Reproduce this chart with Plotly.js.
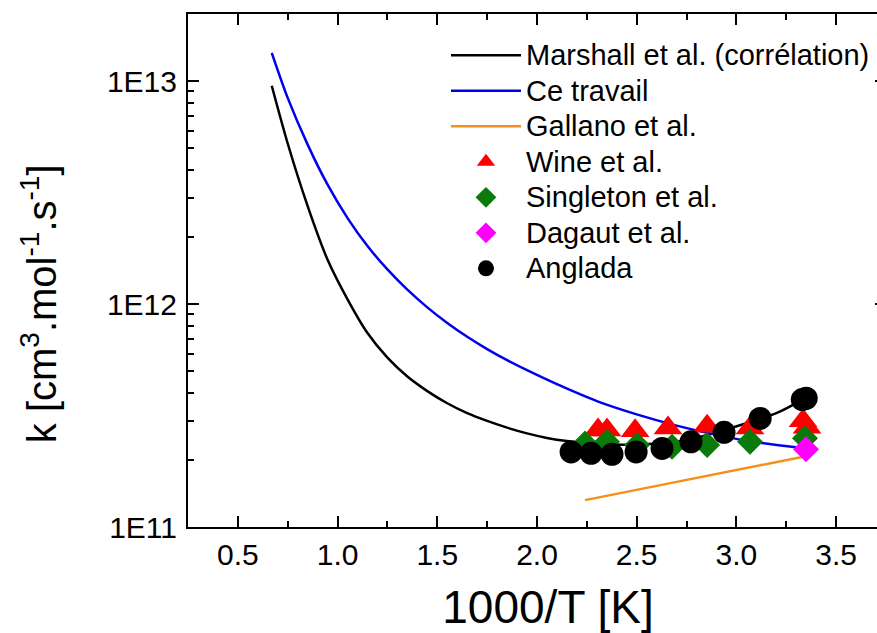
<!DOCTYPE html>
<html><head><meta charset="utf-8">
<script src="https://cdn.plot.ly/plotly-3.0.1.min.js"></script>
<style>html,body{margin:0;padding:0;overflow:hidden;background:#fff}#chart{width:900px;height:633px}</style>
</head><body><div id="chart"></div>
<script>
// Marshall et al. (corrélation)
const marshallX = [0.67, 0.75, 0.85, 0.95, 1.05, 1.15, 1.25, 1.35, 1.45, 1.55, 1.65, 1.75, 1.85, 1.95, 2.05, 2.15, 2.3, 2.45, 2.6, 2.75, 2.9, 3.05, 3.2, 3.33];
const marshallK = [9.53e12, 5.25e12, 2.75e12, 1.58e12, 1.05e12, 7.41e11, 5.75e11, 4.73e11, 4.07e11, 3.59e11, 3.24e11, 2.99e11, 2.79e11, 2.63e11, 2.51e11, 2.43e11, 2.36e11, 2.34e11, 2.37e11, 2.45e11, 2.66e11, 2.92e11, 3.24e11, 3.72e11];
// Ce travail
const travailX = [0.67, 0.75, 0.85, 0.95, 1.05, 1.15, 1.25, 1.35, 1.45, 1.55, 1.65, 1.75, 1.85, 1.95, 2.1, 2.3, 2.5, 2.7, 2.9, 3.1, 3.33];
const travailK = [1.34e13, 8.41e12, 5.19e12, 3.43e12, 2.43e12, 1.82e12, 1.43e12, 1.16e12, 9.66e11, 8.22e11, 7.13e11, 6.28e11, 5.6e11, 5.05e11, 4.37e11, 3.67e11, 3.2e11, 2.85e11, 2.59e11, 2.4e11, 2.26e11];
// Gallano et al.
const gallanoX = [2.241, 3.329];
const gallanoK = [1.32e11, 2.06e11];
// Wine et al.
const wineX = [2.306, 2.351, 2.492, 2.657, 2.853, 3.068, 3.334, 3.354];
const wineK = [2.72e11, 2.72e11, 2.7e11, 2.78e11, 2.83e11, 2.78e11, 3.0e11, 2.8e11];
// Singleton et al.
const singletonX = [2.241, 2.351, 2.502, 2.677, 2.853, 3.068, 3.344];
const singletonK = [2.37e11, 2.41e11, 2.33e11, 2.29e11, 2.33e11, 2.41e11, 2.5e11];
// Dagaut et al.
const dagautX = [3.349];
const dagautK = [2.23e11];
// Anglada
const angladaX = [2.171, 2.271, 2.376, 2.497, 2.627, 2.772, 2.938, 3.119, 3.33, 3.35];
const angladaK = [2.17e11, 2.14e11, 2.12e11, 2.17e11, 2.25e11, 2.41e11, 2.66e11, 3.07e11, 3.73e11, 3.78e11];

const yTickVals = [1e11, 1e12, 1e13];
const yTickText = ['1E11', '1E12', '1E13'];

const FONT = 'Liberation Sans, Arial, sans-serif';
const big = s => '<span style="font-size:29px">' + s + '</span>';
const traces = [
  {x: marshallX, y: marshallK, name: big('Marshall et al. (corrélation)'), mode: 'lines', line: {color: '#000000', width: 2.5, shape: 'spline', smoothing: 0.8}},
  {x: travailX, y: travailK, name: big('Ce travail'), mode: 'lines', line: {color: '#0000ee', width: 2.5, shape: 'spline', smoothing: 0.8}},
  {x: gallanoX, y: gallanoK, name: big('Gallano et al.'), mode: 'lines', line: {color: '#f5901e', width: 2.5}},
  {x: wineX, y: wineK, name: big('Wine et al.'), mode: 'markers', marker: {symbol: 'triangle-up', size: 25, color: '#ff0000'}},
  {x: singletonX, y: singletonK, name: big('Singleton et al.'), mode: 'markers', marker: {symbol: 'diamond', size: 20, color: '#0a7a0a'}},
  {x: dagautX, y: dagautK, name: big('Dagaut et al.'), mode: 'markers', marker: {symbol: 'diamond', size: 20, color: '#ff00ff'}},
  {x: angladaX, y: angladaK, name: big('Anglada'), mode: 'markers', marker: {symbol: 'circle', size: 23, color: '#000000'}}
];

const NB = '\u00a0';
const layout = {
  width: 900, height: 633,
  margin: {l: 188, r: 14, t: 14, b: 106},
  paper_bgcolor: '#ffffff', plot_bgcolor: '#ffffff',
  font: {family: FONT, color: '#000000', size: 30},
  showlegend: true,
  legend: {x: 0.3696, xanchor: 'left', y: 0.9637, yanchor: 'top', bgcolor: 'rgba(0,0,0,0)', borderwidth: 0,
           font: {family: FONT, size: 25, color: '#000'}, tracegroupgap: 0, itemwidth: 70},
  xaxis: {
    range: [0.25, 3.75], dtick: 0.5, tick0: 0.5, tickformat: '.1f',
    ticks: 'inside', ticklen: 11, tickwidth: 2, tickcolor: '#000',
    minor: {dtick: 0.25, tick0: 0.25, ticks: 'inside', ticklen: 6, tickwidth: 2, tickcolor: '#000'},
    showline: true, linecolor: '#000', linewidth: 2, mirror: 'ticks',
    showgrid: false, zeroline: false,
    tickfont: {family: FONT, size: 30},
    title: {text: '\u200b' + NB + '\u2009' + '1000/T [K]', font: {family: FONT, size: 46}, standoff: 25}
  },
  yaxis: {
    type: 'log', range: [11, Math.log10(2e13)],
    tickvals: yTickVals, ticktext: yTickText,
    ticks: 'inside', ticklen: 11, tickwidth: 2, tickcolor: '#000',
    minor: {dtick: 'D1', ticks: 'inside', ticklen: 6, tickwidth: 2, tickcolor: '#000'},
    showline: true, linecolor: '#000', linewidth: 2, mirror: 'ticks',
    showgrid: false, zeroline: false,
    tickfont: {family: FONT, size: 30},
    ticklabelstandoff: 3,
    title: {text: 'k [cm<sup>3</sup>.mol<sup>-1</sup>.s<sup>-1</sup>]' + NB.repeat(6) + '\u200b', font: {family: FONT, size: 40}, standoff: 38}
  }
};

Plotly.newPlot('chart', traces, layout, {displayModeBar: false, staticPlot: true});
</script></body></html>
